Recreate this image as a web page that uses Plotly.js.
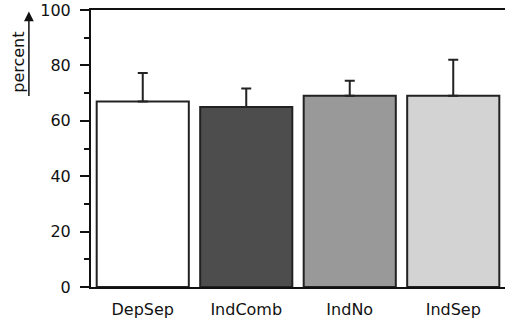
<!DOCTYPE html>
<html>
<head>
<meta charset="utf-8">
<script src="https://cdn.plot.ly/plotly-3.0.1.min.js"></script>
<style>
  html, body { margin: 0; padding: 0; background: #fff; }
  #chart { width: 511px; height: 325px; }
</style>
</head>
<body>
<div id="chart"></div>
<script>
// Mean percentages per condition, with upper error bars
const conditions = ["DepSep", "IndComb", "IndNo", "IndSep"];
const means = [67, 65, 69, 69];
const errorsUp = [10.3, 6.7, 5.5, 13];
const barColors = ["#ffffff", "#4d4d4d", "#999999", "#d3d3d3"];
const yTickVals = [0, 20, 40, 60, 80, 100];

const font = "DejaVu Sans, sans-serif";

const trace = {
  type: "bar",
  x: conditions,
  y: means,
  marker: { color: barColors, line: { color: "#222", width: 2 } },
  error_y: {
    type: "data",
    symmetric: false,
    array: errorsUp,
    arrayminus: [0, 0, 0, 0],
    color: "#222",
    thickness: 2,
    width: 5
  },
  hoverinfo: "none"
};

const layout = {
  width: 511,
  height: 325,
  margin: { l: 91, r: 6, t: 10, b: 38 },
  paper_bgcolor: "#fff",
  plot_bgcolor: "#fff",
  showlegend: false,
  bargap: 0.11,
  font: { family: font, size: 16, color: "#111" },
  xaxis: {
    showline: true,
    linecolor: "#111",
    linewidth: 2,
    mirror: true,
    ticks: "",
    showgrid: false,
    zeroline: false,
    tickfont: { family: font, size: 16 },
    ticklabelstandoff: 7
  },
  yaxis: {
    range: [0, 100],
    tickvals: yTickVals,
    ticks: "outside",
    ticklen: 9,
    tickwidth: 2,
    tickcolor: "#111",
    minor: { dtick: 10, ticks: "outside", ticklen: 5, tickwidth: 2, tickcolor: "#111" },
    showline: true,
    linecolor: "#111",
    linewidth: 2,
    showgrid: false,
    zeroline: false,
    tickfont: { family: font, size: 16 },
    ticklabelstandoff: 6,
    ticklabeloverflow: "allow"
  },
  yaxis2: {
    overlaying: "y",
    side: "right",
    range: [0, 100],
    dtick: 10,
    ticks: "outside",
    ticklen: 5,
    tickwidth: 2,
    tickcolor: "#111",
    showticklabels: false,
    showline: true,
    linecolor: "#111",
    linewidth: 2,
    showgrid: false,
    zeroline: false
  },
  annotations: [
    {
      // axis caption with upward arrow
      xref: "paper", yref: "paper",
      x: -0.176, y: 0.81,
      xanchor: "center", yanchor: "middle",
      text: "percent",
      textangle: -90,
      showarrow: false,
      font: { family: font, size: 16, color: "#111" }
    },
    {
      xref: "paper", yref: "paper",
      x: -0.15, y: 0.995,
      ax: 0, ay: 86,
      axref: "pixel", ayref: "pixel",
      text: "",
      showarrow: true,
      arrowhead: 2,
      arrowsize: 1.3,
      arrowwidth: 1.5,
      arrowcolor: "#111"
    }
  ]
};

Plotly.newPlot("chart", [trace], layout, { displayModeBar: false, staticPlot: true });
</script>
</body>
</html>
